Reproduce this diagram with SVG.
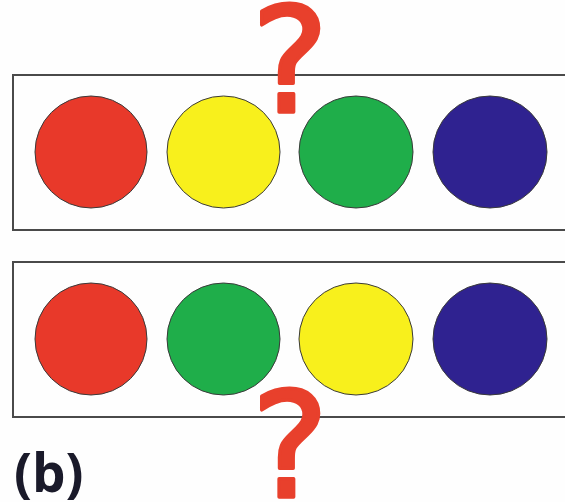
<svg xmlns="http://www.w3.org/2000/svg" width="565" height="502" viewBox="0 0 565 502">
<style>
.box{fill:#fefefe;stroke:#4a4a4a;stroke-width:2}
.dot{stroke:#3a3a3a;stroke-width:1}
.red{fill:#e8392a}
.yellow{fill:#f8f01c}
.green{fill:#1fae4a}
.blue{fill:#2f2290}
.q{font-family:"DejaVu Sans",sans-serif;font-weight:normal;font-size:146px;fill:#e8402c;stroke:#e8402c;stroke-width:3.5;stroke-linejoin:round;text-anchor:middle}
.lbl{font-family:"Open Sans",sans-serif;font-weight:bold;font-size:53px;fill:#1a1a2a}
</style>
<rect width="565" height="502" fill="#fefefe"/>
<g id="row-top">
<rect class="box" x="13" y="75" width="560" height="155"/>
<ellipse id="top-red" class="dot red" cx="91" cy="152" rx="56" ry="56"/>
<ellipse id="top-yellow" class="dot yellow" cx="223.5" cy="152" rx="56.5" ry="56"/>
<ellipse id="top-green" class="dot green" cx="356" cy="152" rx="57" ry="56"/>
<ellipse id="top-blue" class="dot blue" cx="490" cy="152" rx="57" ry="56"/>
</g>
<g id="row-bottom">
<rect class="box" x="13" y="262" width="560" height="155"/>
<ellipse id="bot-red" class="dot red" cx="91" cy="339" rx="56" ry="56"/>
<ellipse id="bot-green" class="dot green" cx="223.5" cy="339" rx="56.5" ry="56"/>
<ellipse id="bot-yellow" class="dot yellow" cx="356" cy="339" rx="57" ry="56"/>
<ellipse id="bot-blue" class="dot blue" cx="490" cy="339" rx="57" ry="56"/>
</g>
<g id="q-top"><text class="q" x="290" y="112">?</text></g>
<g id="q-bottom"><text class="q" x="290" y="497">?</text></g>
<g id="label"><text class="lbl" x="14" y="492">(b)</text></g>
<g id="connectors"/>
</svg>
